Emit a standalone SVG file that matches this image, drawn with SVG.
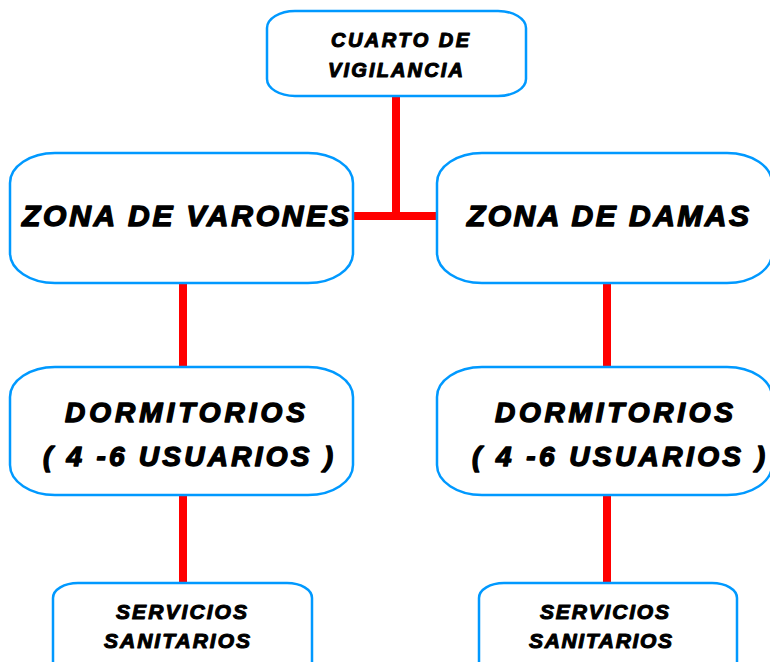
<svg xmlns="http://www.w3.org/2000/svg" width="770" height="662" viewBox="0 0 770 662">
<style>
.box{fill:#fff;stroke:#0099ff;stroke-width:2.5}
.t{font-family:"Liberation Sans",Arial,sans-serif;font-weight:bold;font-style:italic;fill:#000;stroke:#000;stroke-width:1.4;stroke-linejoin:round;text-anchor:start}
.s{stroke-width:1.1}
.c{stroke:#ff0000;stroke-width:8;fill:none}
</style>
<rect width="770" height="662" fill="#fff"/>
<g id="connectors">
<line class="c" x1="396" y1="96" x2="396" y2="216"/>
<line class="c" x1="352" y1="216" x2="438" y2="216"/>
<line class="c" x1="183" y1="283" x2="183" y2="368"/>
<line class="c" x1="607" y1="283" x2="607" y2="368"/>
<line class="c" x1="183" y1="495" x2="183" y2="584"/>
<line class="c" x1="607" y1="495" x2="607" y2="584"/>
</g>
<g id="cuarto">
<rect class="box" x="267" y="11" width="259" height="85" rx="28" ry="17"/>
<text class="t s" x="331" y="47" font-size="20" textLength="138" lengthAdjust="spacing">CUARTO DE</text>
<text class="t s" x="328" y="77" font-size="20" textLength="135" lengthAdjust="spacing">VIGILANCIA</text>
</g>
<g id="varones">
<rect class="box" x="10" y="153" width="343" height="130" rx="45" ry="30"/>
<text class="t" x="22" y="226" font-size="30" textLength="327" lengthAdjust="spacing">ZONA DE VARONES</text>
</g>
<g id="damas">
<rect class="box" x="437" y="153" width="335" height="130" rx="45" ry="30"/>
<text class="t" x="467" y="226" font-size="30" textLength="282" lengthAdjust="spacing">ZONA DE DAMAS</text>
</g>
<g id="dorm-left">
<rect class="box" x="10" y="367" width="343" height="128" rx="45" ry="30"/>
<text class="t" x="65" y="422" font-size="28" textLength="240" lengthAdjust="spacing">DORMITORIOS</text>
<text class="t" x="43" y="466" font-size="28" textLength="290" lengthAdjust="spacing">( 4 -6 USUARIOS )</text>
</g>
<g id="dorm-right">
<rect class="box" x="437" y="367" width="335" height="128" rx="45" ry="30"/>
<text class="t" x="495" y="422" font-size="28" textLength="238" lengthAdjust="spacing">DORMITORIOS</text>
<text class="t" x="472" y="466" font-size="28" textLength="293" lengthAdjust="spacing">( 4 -6 USUARIOS )</text>
</g>
<g id="serv-left">
<rect class="box" x="53" y="583" width="259" height="100" rx="25" ry="15"/>
<text class="t s" x="116" y="619" font-size="21" textLength="131" lengthAdjust="spacing">SERVICIOS</text>
<text class="t s" x="104" y="648" font-size="21" textLength="146" lengthAdjust="spacing">SANITARIOS</text>
</g>
<g id="serv-right">
<rect class="box" x="479" y="583" width="258" height="100" rx="25" ry="15"/>
<text class="t s" x="540" y="619" font-size="21" textLength="129" lengthAdjust="spacing">SERVICIOS</text>
<text class="t s" x="529" y="648" font-size="21" textLength="143" lengthAdjust="spacing">SANITARIOS</text>
</g>
</svg>
